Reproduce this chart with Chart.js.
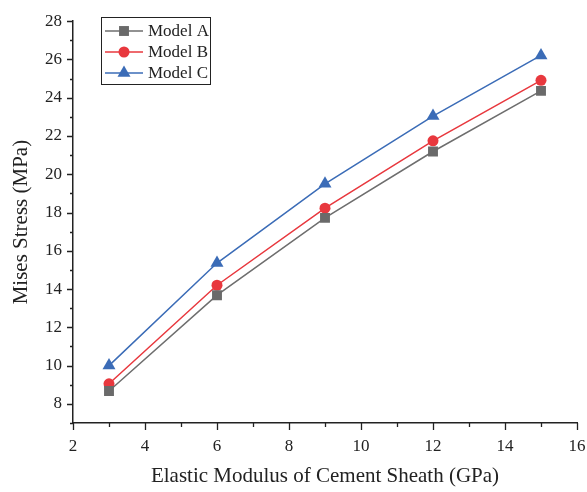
<!DOCTYPE html>
<html>
<head>
<meta charset="utf-8">
<script src="https://cdn.jsdelivr.net/npm/chart.js@4/dist/chart.umd.min.js"></script>
<style>
  html, body { margin: 0; padding: 0; background: #fff; }
  #wrap { width: 587px; height: 492px; }
</style>
</head>
<body>
<div id="wrap"><canvas id="chart" width="587" height="492"></canvas></div>
<script>
// data
const modulus = [3, 6, 9, 12, 15];
const modelA = [8.67, 13.68, 17.72, 21.19, 24.36];
const modelB = [9.05, 14.2, 18.23, 21.75, 24.91];
const modelC = [10.0, 15.36, 19.5, 23.04, 26.21];
const seriesNames = ['Model A', 'Model B', 'Model C'];

const xTicks = [2, 4, 6, 8, 10, 12, 14, 16];
const xMinor = [3, 5, 7, 9, 11, 13, 15];
const yTicks = [8, 10, 12, 14, 16, 18, 20, 22, 24, 26, 28];
const yMinor = [7, 9, 11, 13, 15, 17, 19, 21, 23, 25, 27];

const serif = "'Liberation Serif', 'Times New Roman', serif";
const ink = '#222';

function toPoints(ys) {
  return modulus.map((x, i) => ({ x: x, y: ys[i] }));
}

// tick marks, major and minor, pointing outwards
const tickMarks = {
  id: 'tickMarks',
  afterDraw(chart) {
    const ctx = chart.ctx;
    const xs = chart.scales.x, ys = chart.scales.y;
    const area = chart.chartArea;
    ctx.save();
    ctx.strokeStyle = ink;
    ctx.lineWidth = 1.3;
    ctx.beginPath();
    xTicks.forEach(v => {
      let p = Math.round(xs.getPixelForValue(v)) + 0.5;
      ctx.moveTo(p, area.bottom); ctx.lineTo(p, area.bottom + 7);
    });
    xMinor.forEach(v => {
      let p = Math.round(xs.getPixelForValue(v)) + 0.5;
      ctx.moveTo(p, area.bottom); ctx.lineTo(p, area.bottom + 4);
    });
    yTicks.forEach(v => {
      let p = Math.round(ys.getPixelForValue(v)) + 0.5;
      ctx.moveTo(area.left, p); ctx.lineTo(area.left - 6, p);
    });
    yMinor.forEach(v => {
      let p = Math.round(ys.getPixelForValue(v)) + 0.5;
      ctx.moveTo(area.left, p); ctx.lineTo(area.left - 3, p);
    });
    ctx.stroke();
    ctx.restore();
  }
};

// boxed legend with line + marker samples
const boxLegend = {
  id: 'boxLegend',
  afterDraw(chart) {
    const ctx = chart.ctx;
    const box = { x: 101.5, y: 17.5, w: 109, h: 67 };
    ctx.save();
    ctx.fillStyle = '#fff';
    ctx.fillRect(box.x, box.y, box.w, box.h);
    ctx.strokeStyle = ink;
    ctx.lineWidth = 1;
    ctx.strokeRect(box.x, box.y, box.w, box.h);
    chart.data.datasets.forEach((ds, i) => {
      const cy = 31 + i * 21;
      ctx.strokeStyle = ds.borderColor;
      ctx.lineWidth = 1.5;
      ctx.beginPath();
      ctx.moveTo(105, cy); ctx.lineTo(143, cy);
      ctx.stroke();
      ctx.fillStyle = ds.pointBackgroundColor;
      ctx.strokeStyle = ds.pointBackgroundColor;
      Chart.helpers.drawPoint(ctx, {
        pointStyle: ds.pointStyle, radius: ds.pointRadius, rotation: 0, borderWidth: 0
      }, 124, cy);
      ctx.fillStyle = ink;
      ctx.font = '17px ' + serif;
      ctx.textBaseline = 'middle';
      ctx.textAlign = 'left';
      ctx.fillText(ds.label, 148, cy + 1);
    });
    ctx.restore();
  }
};

new Chart(document.getElementById('chart'), {
  type: 'line',
  data: {
    datasets: [
      {
        label: seriesNames[0], data: toPoints(modelA),
        borderColor: '#6e6e6e', borderWidth: 1.5,
        pointStyle: 'rect', pointRadius: 7,
        pointBackgroundColor: '#6a6a6a', pointBorderWidth: 0
      },
      {
        label: seriesNames[1], data: toPoints(modelB),
        borderColor: '#e8383e', borderWidth: 1.5,
        pointStyle: 'circle', pointRadius: 5.5,
        pointBackgroundColor: '#e8383e', pointBorderWidth: 0
      },
      {
        label: seriesNames[2], data: toPoints(modelC),
        borderColor: '#3b6cb7', borderWidth: 1.5,
        pointStyle: 'triangle', pointRadius: 7.5,
        pointBackgroundColor: '#3b6cb7', pointBorderWidth: 0
      }
    ]
  },
  options: {
    responsive: false,
    animation: false,
    layout: { padding: { top: 15, right: 0, left: 0, bottom: 0 } },
    plugins: {
      legend: { display: false },
      tooltip: { enabled: false }
    },
    scales: {
      x: {
        type: 'linear',
        min: 2, max: 16,
        afterBuildTicks: s => { s.ticks = xTicks.map(v => ({ value: v })); },
        afterFit: s => { s.height = 69; s.paddingLeft = 0; s.paddingRight = 10; },
        grid: { drawOnChartArea: false, drawTicks: false },
        border: { display: true, color: ink, width: 1.5 },
        ticks: {
          autoSkip: false, maxRotation: 0, padding: 13,
          color: ink, font: { family: serif, size: 17 }
        },
        title: {
          display: true, text: 'Elastic Modulus of Cement Sheath (GPa)',
          color: ink, font: { family: serif, size: 21 },
          padding: { top: 3, bottom: 3 }
        }
      },
      y: {
        type: 'linear',
        min: 7, max: 28,
        afterBuildTicks: s => { s.ticks = yTicks.map(v => ({ value: v })); },
        afterFit: s => { s.width = 73; },
        grid: { drawOnChartArea: false, drawTicks: false },
        border: { display: true, color: ink, width: 1.5 },
        ticks: {
          autoSkip: false, padding: 11,
          color: ink, font: { family: serif, size: 17 }
        },
        title: {
          display: true, text: 'Mises Stress (MPa)',
          color: ink, font: { family: serif, size: 21 },
          padding: { top: 9, bottom: 9 }
        }
      }
    }
  },
  plugins: [tickMarks, boxLegend]
});
</script>
</body>
</html>
